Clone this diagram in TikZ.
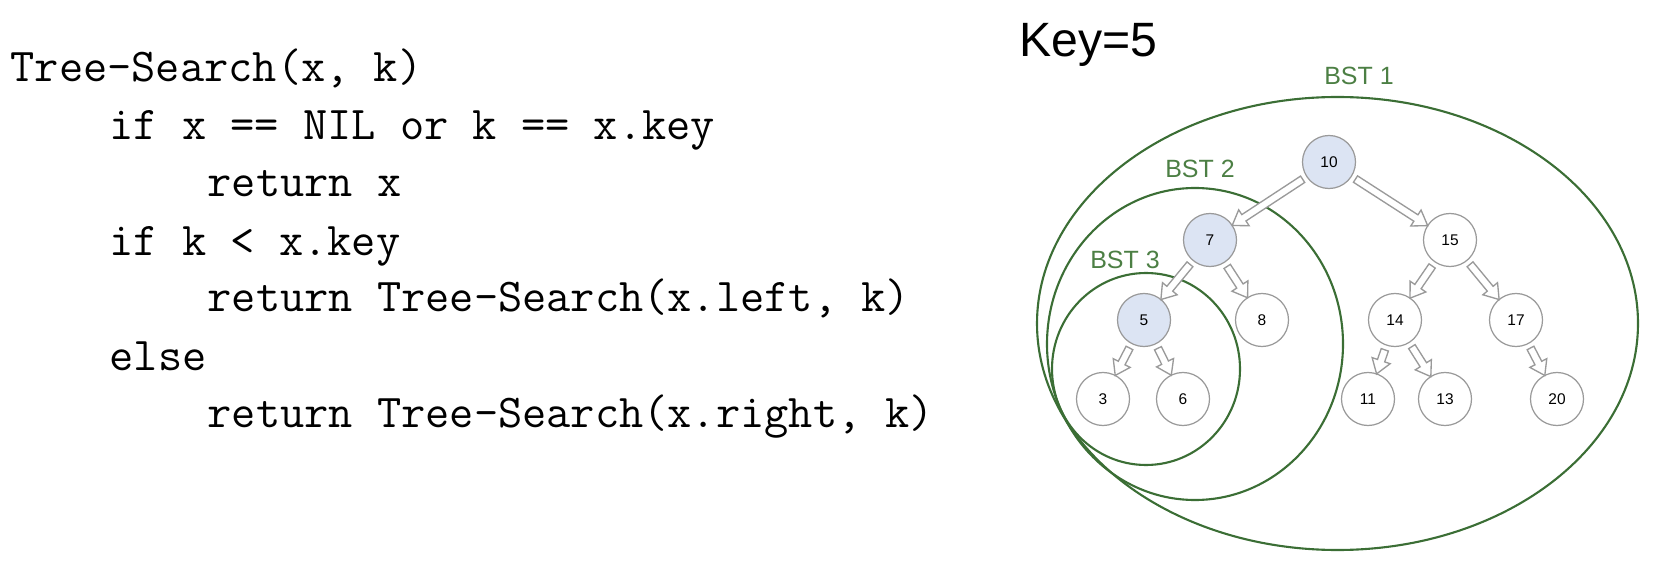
\documentclass[tikz,border=0pt]{standalone}
\usepackage{fontspec}
\setsansfont{Liberation Sans}
\usetikzlibrary{calc,positioning}
\definecolor{BstGreen}{HTML}{3B6E35}
\definecolor{LabelGreen}{HTML}{4C7F44}
\definecolor{VisitBlue}{HTML}{DCE4F3}
\definecolor{Wire}{HTML}{9A9A9A}
% hollow block arrow between two tree nodes
\newcommand{\treelink}[2]{%
  \draw[link] let \p1=($(#1)!0.315cm!(#2)$), \p2=($(#2)!0.265cm!(#1)$),
      \n1={atan2(\y2-\y1,\x2-\x1)}, \n2={veclen(\x2-\x1,\y2-\y1)} in
    [shift={(\p1)},rotate=\n1]
    (0cm,-0.038cm) -- ({\n2-0.14cm},-0.038cm) -- ({\n2-0.14cm},-0.095cm)
    -- ({\n2-0cm},0cm) -- ({\n2-0.14cm},0.095cm) -- ({\n2-0.14cm},0.038cm)
    -- (0cm,0.038cm) -- cycle;}

\begin{document}
\begin{tikzpicture}[x=0.01cm,y=-0.01cm,
          vertex/.style={circle,draw=Wire,fill=white,line width=0.35pt,
                         minimum size=0.53cm,inner sep=0pt,
                         font=\sffamily\fontsize{4.4}{4.4}\selectfont},
          visited/.style={vertex,fill=VisitBlue},
          link/.style={draw=Wire,fill=white,line width=0.38pt,line join=miter},
          subtree/.style={draw=BstGreen,line width=0.6pt},
          bstlabel/.style={text=LabelGreen,inner sep=0pt,
                           font=\sffamily\fontsize{7.1}{8}\selectfont},
          codeline/.style={anchor=base west,inner sep=0pt,
                           font=\ttfamily\fontsize{13.37}{16}\selectfont}]
        \useasboundingbox (0,0) rectangle (1666,573);
        % pseudo code on the left
        \node[codeline] (line1) at (10,82) {Tree-Search(x, k)};
        \node[codeline] (line2) at (109,140) {if x == NIL or k == x.key};
        \node[codeline] (line3) at (207,197) {return x};
        \node[codeline] (line4) at (109,255) {if k < x.key};
        \node[codeline] (line5) at (207,312) {return Tree-Search(x.left, k)};
        \node[codeline] (line6) at (109,370) {else};
        \node[codeline] (line7) at (207,427) {return Tree-Search(x.right, k)};
        \node[anchor=base west,inner sep=0pt,
              font=\sffamily\fontsize{13.7}{16}\selectfont] (key) at (1019,57) {Key=5};
        % nested subtrees
        \draw[subtree] (1337.5,323.5) ellipse [x radius=300.5,y radius=226.5];
        \draw[subtree] (1195,344) ellipse [x radius=148,y radius=156];
        \draw[subtree] (1146,369) ellipse [x radius=94,y radius=96];
        \node[bstlabel] (bst1) at (1359,76) {BST 1};
        \node[bstlabel] (bst2) at (1200,168.5) {BST 2};
        \node[bstlabel] (bst3) at (1125,259.5) {BST 3};
        \foreach \v/\x/\y/\kind in {10/1329/162/visited,7/1210/240/visited,
            15/1450/240/vertex,5/1144/320/visited,8/1262/320/vertex,
            14/1395/320/vertex,17/1516/320/vertex,3/1103/399/vertex,
            6/1183/399/vertex,11/1368/399/vertex,13/1445/399/vertex,
            20/1557/399/vertex}{%
          \node[\kind] (n\v) at (\x,\y) {\v};
        }
        \foreach \a/\b in {10/7,10/15,7/5,7/8,5/3,5/6,15/14,15/17,14/11,14/13,17/20}
          \treelink{n\a}{n\b};
      \end{tikzpicture}
\end{document}
